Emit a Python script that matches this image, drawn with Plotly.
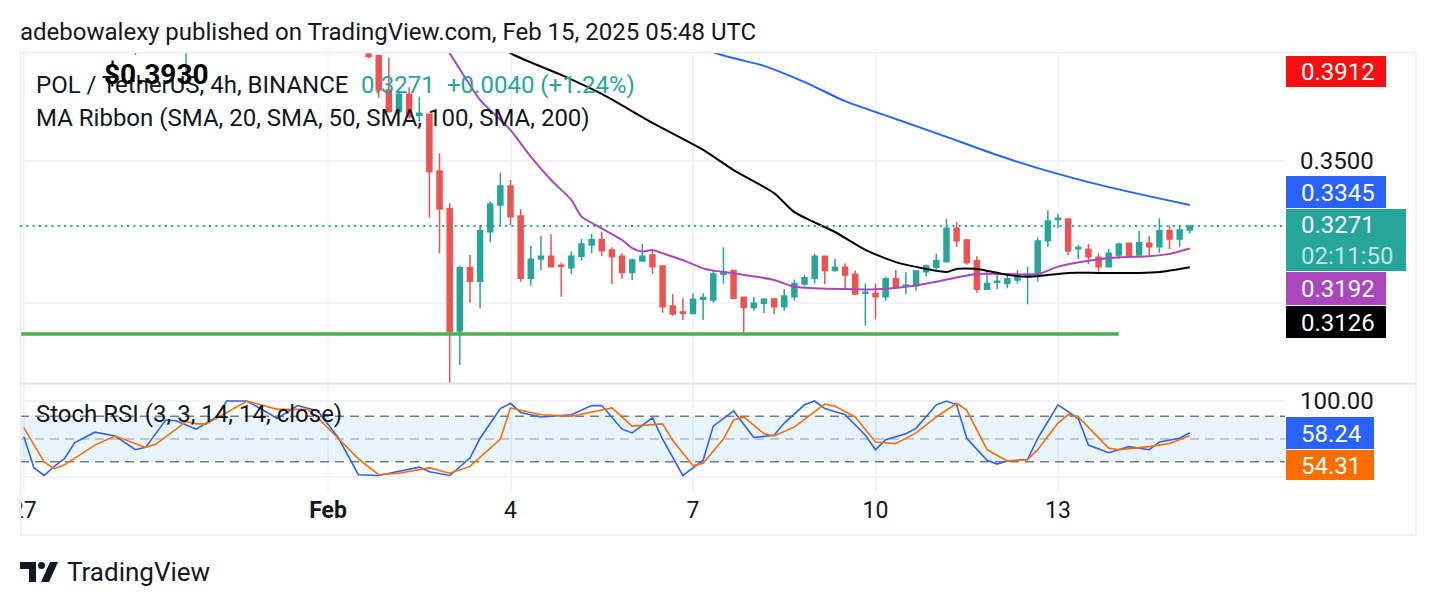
import plotly.graph_objects as go
import pandas as pd

# ---------------- data ----------------
BASE = pd.Timestamp("2025-02-01 00:00")   # bar index 0 = Feb 1 00:00 UTC, 4h bars

bar_idx = [-19, -14] + list(range(4, 86))
opens = [0.4050, 0.3950,
         0.3877, 0.3871, 0.3750, 0.3674, 0.3735, 0.3660, 0.3665, 0.3465, 0.3333, 0.2901,
         0.3124, 0.3077, 0.3251, 0.3345, 0.3412, 0.3306, 0.3087, 0.3155, 0.3165, 0.3133,
         0.3124, 0.3165, 0.3204, 0.3224, 0.3187, 0.3165, 0.3107, 0.3148, 0.3169, 0.3130,
         0.2989, 0.2968, 0.2963, 0.3013, 0.3011, 0.3101, 0.3114, 0.3020, 0.2984, 0.2999,
         0.3014, 0.2987, 0.3022, 0.3067, 0.3087, 0.3165, 0.3114, 0.3126, 0.3101, 0.3034,
         0.3034, 0.3022, 0.3085, 0.3059, 0.3061, 0.3110, 0.3126, 0.3145, 0.3263, 0.3222,
         0.3149, 0.3048, 0.3073, 0.3069, 0.3081, 0.3097, 0.3099, 0.3219, 0.3294, 0.3296,
         0.3191, 0.3189, 0.3161, 0.3128, 0.3169, 0.3210, 0.3169, 0.3210, 0.3198, 0.3254,
         0.3225, 0.3257]
highs = [0.4120, 0.4100,
         0.3920, 0.3875, 0.3864, 0.3740, 0.3760, 0.3726, 0.3668, 0.3527, 0.3351, 0.3131,
         0.3169, 0.3275, 0.3357, 0.3459, 0.3433, 0.3330, 0.3201, 0.3236, 0.3242, 0.3143,
         0.3181, 0.3225, 0.3243, 0.3251, 0.3196, 0.3175, 0.3157, 0.3208, 0.3189, 0.3132,
         0.3032, 0.3017, 0.3034, 0.3034, 0.3116, 0.3196, 0.3115, 0.3022, 0.3022, 0.3017,
         0.3018, 0.3048, 0.3083, 0.3099, 0.3173, 0.3166, 0.3155, 0.3140, 0.3114, 0.3069,
         0.3069, 0.3093, 0.3116, 0.3108, 0.3114, 0.3136, 0.3173, 0.3296, 0.3284, 0.3225,
         0.3165, 0.3116, 0.3110, 0.3102, 0.3116, 0.3128, 0.3231, 0.3327, 0.3313, 0.3297,
         0.3204, 0.3208, 0.3175, 0.3189, 0.3212, 0.3211, 0.3254, 0.3236, 0.3298, 0.3271,
         0.3275, 0.3275]
lows = [0.3873, 0.3813,
        0.3862, 0.3723, 0.3670, 0.3668, 0.3650, 0.3638, 0.3300, 0.3175, 0.2717, 0.2782,
        0.3001, 0.2981, 0.3214, 0.3272, 0.3275, 0.3075, 0.3061, 0.3116, 0.3125, 0.3022,
        0.3102, 0.3149, 0.3175, 0.3165, 0.3067, 0.3085, 0.3081, 0.3145, 0.3102, 0.2966,
        0.2955, 0.2940, 0.2960, 0.2940, 0.3001, 0.3069, 0.3015, 0.2893, 0.2973, 0.2964,
        0.2961, 0.2973, 0.3008, 0.3060, 0.3069, 0.3066, 0.3110, 0.3049, 0.3028, 0.2920,
        0.2943, 0.3008, 0.3052, 0.3031, 0.3043, 0.3093, 0.3119, 0.3143, 0.3198, 0.3135,
        0.3036, 0.3046, 0.3049, 0.3052, 0.3069, 0.2995, 0.3075, 0.3198, 0.3263, 0.3169,
        0.3155, 0.3137, 0.3110, 0.3125, 0.3155, 0.3161, 0.3168, 0.3169, 0.3177, 0.3190,
        0.3198, 0.3245]
closes = [0.3960, 0.4060,
          0.3868, 0.3750, 0.3674, 0.3735, 0.3656, 0.3668, 0.3462, 0.3331, 0.2899, 0.3124,
          0.3077, 0.3254, 0.3349, 0.3412, 0.3304, 0.3087, 0.3154, 0.3165, 0.3128, 0.3129,
          0.3165, 0.3208, 0.3224, 0.3184, 0.3163, 0.3107, 0.3151, 0.3165, 0.3128, 0.2987,
          0.2961, 0.2964, 0.3013, 0.3019, 0.3102, 0.3110, 0.3017, 0.2984, 0.2999, 0.3013,
          0.2987, 0.3025, 0.3069, 0.3089, 0.3165, 0.3114, 0.3126, 0.3099, 0.3032, 0.3038,
          0.3022, 0.3085, 0.3055, 0.3063, 0.3113, 0.3130, 0.3149, 0.3263, 0.3219, 0.3142,
          0.3048, 0.3069, 0.3077, 0.3085, 0.3095, 0.3101, 0.3218, 0.3289, 0.3298, 0.3183,
          0.3195, 0.3163, 0.3128, 0.3175, 0.3208, 0.3165, 0.3212, 0.3198, 0.3254, 0.3225,
          0.3257, 0.3271]

# MA Ribbon lines (bar index, value)
sma20_idx = [11, 12, 15, 18, 20, 22, 24, 25, 27, 29, 30, 31, 32, 33, 35, 37, 38, 40, 44, 46, 48,
             54, 57, 60, 62, 64, 67, 70, 72, 75, 78, 81, 83, 85]
sma20_val = [0.3925, 0.3879, 0.3715, 0.3609, 0.3515, 0.3433, 0.3363, 0.3304, 0.3263, 0.3222,
             0.3193, 0.3181, 0.3187, 0.3175, 0.3151, 0.3122, 0.3114, 0.3105, 0.3081, 0.3057,
             0.3052, 0.3048, 0.3057, 0.3075, 0.3090, 0.3102, 0.3102, 0.3102, 0.3128, 0.3149,
             0.3161, 0.3165, 0.3173, 0.3192]
sma50_idx = [17, 18, 23, 27, 32, 37, 40, 44, 46, 50, 53, 56, 59, 61, 62, 64, 67, 69, 71, 73,
             76, 80, 82, 85]
sma50_val = [0.3915, 0.3880, 0.3803, 0.3736, 0.3634, 0.3539, 0.3468, 0.3387, 0.3320, 0.3250,
             0.3187, 0.3144, 0.3120, 0.3109, 0.3120, 0.3120, 0.3099, 0.3092, 0.3099, 0.3106,
             0.3106, 0.3106, 0.3109, 0.3126]
sma100_idx = [37, 38, 43, 47, 51, 56, 61, 66, 70, 77, 85]
sma100_val = [0.3925, 0.3884, 0.3835, 0.3778, 0.3711, 0.3648, 0.3585, 0.3521, 0.3475, 0.3408,
              0.3345]
sma200_last = 0.3912

support_level = 0.2891
support_end_idx = 78

# Stoch RSI (bar index, value)
k_idx = [-30, -29, -28, -27, -26, -25, -23, -21, -19, -18, -16, -15, -13, -11, -10, -8, -6, -5,
         -3, -1, 1, 3, 5, 7, 9, 10, 12, 14, 15, 17, 18, 19, 21, 24, 26, 27, 29, 30, 32, 33, 35,
         37, 38, 40, 42, 44, 45, 47, 48, 49, 51, 53, 54, 55, 57, 58, 60, 61, 62, 63, 65, 66, 67,
         69, 70, 72, 74, 75, 77, 79, 81, 82, 84, 85]
k_val = [53, 12, 2, 14, 24, 45, 59, 54, 36, 39, 75, 74, 63, 79, 100, 100, 85, 77,
         94, 87, 52, 3, 2, 7, 13, 7, 2, 25, 51, 90, 97, 85, 79, 82, 94, 94, 63, 58, 78, 50, 2,
         22, 67, 87, 52, 55, 71, 95, 100, 90, 82, 55, 36, 49, 57, 64, 95, 100, 95, 51, 22, 17, 21,
         23, 51, 95, 77, 42, 32, 40, 36, 46, 51, 58.24]
d_idx = [-30, -28, -27, -26, -23, -21, -18, -17, -14, -13, -12, -8, -5, -2, -1, 3, 5, 7, 10, 12,
         14, 17, 18, 21, 24, 28, 30, 33, 34, 36, 37, 39, 40, 41, 43, 44, 46, 49, 50, 52, 54, 56,
         58, 60, 62, 63, 65, 67, 69, 70, 72, 73, 74, 77, 78, 81, 83, 85]
d_val = [65, 20, 11, 16, 42, 54, 39, 43, 73, 70, 70, 100, 89, 89, 78, 24, 3, 5, 12, 5,
         14, 50, 91, 82, 80, 91, 67, 70, 48, 15, 18, 50, 75, 79, 57, 54, 66, 96, 93, 79, 46, 44,
         58, 79, 97, 88, 36, 21, 23, 36, 71, 82, 79, 38, 36, 40, 44, 54.31]

time_ticks = ["2025-01-27", "2025-02-01", "2025-02-04", "2025-02-07", "2025-02-10", "2025-02-13"]
time_tick_text = ["27", "<b>Feb</b>", "4", "7", "10", "13"]
price_ticks = [0.30, 0.35]
price_tick_text = ["", "0.3500"]

# ---------------- helpers ----------------
def bt(idx):
    return [BASE + pd.Timedelta(hours=4 * n) for n in idx]

W, H = 1436, 606
L, R, T, B = 20, 1285, 52, 492
def px(x):
    return (x - L) / (R - L)
def py(y):
    return (B - y) / (B - T)

UP, DN = "#26a69a", "#ef5350"
TXT = "#131722"
FONT = "Roboto"
FS = 24

fig = go.Figure()

fig.add_trace(go.Candlestick(
    x=bt(bar_idx), open=opens, high=highs, low=lows, close=closes,
    increasing=dict(line=dict(color=UP, width=1.5), fillcolor=UP),
    decreasing=dict(line=dict(color=DN, width=1.5), fillcolor=DN),
    xaxis="x", yaxis="y", showlegend=False, hoverinfo="skip"))

fig.add_trace(go.Scatter(x=[BASE + pd.Timedelta(hours=4 * -40), bt([support_end_idx])[0]],
                         y=[support_level, support_level], mode="lines",
                         line=dict(color="#4caf50", width=3.5), xaxis="x", yaxis="y",
                         showlegend=False, hoverinfo="skip"))
fig.add_trace(go.Scatter(x=bt(sma20_idx), y=sma20_val, mode="lines",
                         line=dict(color="#ab47bc", width=2, shape="spline", smoothing=0.6),
                         xaxis="x", yaxis="y", showlegend=False, hoverinfo="skip"))
fig.add_trace(go.Scatter(x=bt(sma50_idx), y=sma50_val, mode="lines",
                         line=dict(color="#000000", width=2, shape="spline", smoothing=0.6),
                         xaxis="x", yaxis="y", showlegend=False, hoverinfo="skip"))
fig.add_trace(go.Scatter(x=bt(sma100_idx), y=sma100_val, mode="lines",
                         line=dict(color="#2962ff", width=2, shape="spline", smoothing=0.6),
                         xaxis="x", yaxis="y", showlegend=False, hoverinfo="skip"))

# Stoch RSI
x_start = BASE + pd.Timedelta(hours=4 * -30.38)
x_end = BASE + pd.Timedelta(hours=4 * 94.39)
fig.add_trace(go.Scatter(x=[x_start, x_end, x_end, x_start], y=[20, 20, 80, 80], fill="toself",
                         fillcolor="rgba(33,150,243,0.10)", line=dict(width=0), mode="lines",
                         xaxis="x2", yaxis="y2", showlegend=False, hoverinfo="skip"))
for lvl, col in [(80, "#787b86"), (50, "#b2b5be"), (20, "#787b86")]:
    fig.add_trace(go.Scatter(x=[x_start, x_end], y=[lvl, lvl], mode="lines",
                             line=dict(color=col, width=1.5, dash="9px,6px"),
                             xaxis="x2", yaxis="y2", showlegend=False, hoverinfo="skip"))
fig.add_trace(go.Scatter(x=bt(k_idx), y=k_val, mode="lines", line=dict(color="#2962ff", width=1.6),
                         xaxis="x2", yaxis="y2", showlegend=False, hoverinfo="skip"))
fig.add_trace(go.Scatter(x=bt(d_idx), y=d_val, mode="lines", line=dict(color="#ff6d00", width=1.6),
                         xaxis="x2", yaxis="y2", showlegend=False, hoverinfo="skip"))

main_lo = 0.35 - (383 - 161) / 2840
main_hi = 0.35 + (161 - 52) / 2840
grid = "#f0f3fa"

fig.update_layout(
    width=W, height=H, paper_bgcolor="white", plot_bgcolor="white",
    margin=dict(l=L, r=W - R, t=T, b=H - B),
    font=dict(family=FONT, color=TXT),
    showlegend=False,
    xaxis=dict(domain=[0, 1], anchor="y", range=[x_start, x_end], type="date",
               rangeslider=dict(visible=False), showticklabels=False,
               tickvals=time_ticks, showgrid=True, gridcolor=grid, gridwidth=1.5,
               zeroline=False, showline=False),
    yaxis=dict(domain=[(B - 383) / (B - T), 1], anchor="x", side="right",
               range=[main_lo, main_hi], tickvals=price_ticks, ticktext=price_tick_text,
               showgrid=True, gridcolor=grid, gridwidth=1.5, zeroline=False, ticks="",
               tickfont=dict(size=FS, color=TXT, family=FONT), ticklabelstandoff=14),
    xaxis2=dict(domain=[0, 1], anchor="y2", range=[x_start, x_end], type="date",
                tickvals=time_ticks, ticktext=time_tick_text, showgrid=True, gridcolor=grid,
                gridwidth=1.5, zeroline=False, ticks="", showline=False,
                tickfont=dict(size=23, color=TXT, family=FONT), ticklabelstandoff=2),
    yaxis2=dict(domain=[0, (B - 384) / (B - T)], anchor="x2", side="right",
                range=[-19.7, 122.4], tickvals=[0, 100], ticktext=["", "100.00"],
                showgrid=True, gridcolor=grid, gridwidth=1.5, zeroline=False, ticks="",
                tickfont=dict(size=FS, color=TXT, family=FONT), ticklabelstandoff=14),
)

shapes = []
def pline(x0, y0, x1, y1, color="#e0e3eb", width=1):
    shapes.append(dict(type="line", xref="paper", yref="paper", x0=px(x0), y0=py(y0),
                       x1=px(x1), y1=py(y1), line=dict(color=color, width=width), layer="above"))

# white strip left of the chart frame (the cut-off "27" time label)
shapes.append(dict(type="rect", xref="paper", yref="paper", x0=px(0), x1=px(19.8),
                   y0=py(528), y1=py(494), fillcolor="white", line=dict(width=0), layer="above"))
# frame
pline(20, 52.5, 1416, 52.5, "#ebedf1", 1.5)
pline(20.5, 52, 20.5, 535, "#ebedf1", 1.5)
pline(1416, 52, 1416, 535, "#ebedf1", 1.5)
pline(20, 535, 1416, 535, "#ebedf1", 1.5)
pline(20, 383.5, 1416, 383.5, "#dfe2e8", 2)

# last price dotted line
shapes.append(dict(type="line", xref="paper", yref="y", x0=0, x1=1, y0=closes[-1], y1=closes[-1],
                   line=dict(color=UP, width=2, dash="2px,4.3px"), layer="above"))

annotations = []
def text(x, y, s, size=FS, color=TXT, bold=False, anchor="left"):
    annotations.append(dict(xref="paper", yref="paper", x=px(x), y=py(y), text=("<b>%s</b>" % s) if bold else s,
                            showarrow=False, xanchor=anchor, yanchor="middle",
                            font=dict(size=size, color=color, family=FONT)))

def label_box(x0, x1, y0, y1, color, lines):
    shapes.append(dict(type="rect", xref="paper", yref="paper", x0=px(x0), x1=px(x1),
                       y0=py(y1), y1=py(y0), fillcolor=color, line=dict(width=0), layer="above"))
    n = len(lines)
    step = (y1 - y0) / n
    for i, (s, c) in enumerate(lines):
        text(1299, y0 + step * (i + 0.5) + 0.5, s, FS, c)

label_box(1286, 1386, 56, 87, "#f70f0f", [("%.4f" % sma200_last, "white")])
label_box(1286, 1386, 176, 208, "#2962ff", [("%.4f" % sma100_val[-1], "white")])
label_box(1286, 1406, 209, 271, UP, [("%.4f" % closes[-1], "white"), ("02:11:50", "rgba(255,255,255,0.72)")])
label_box(1286, 1386, 272, 305, "#ab47bc", [("%.4f" % sma20_val[-1], "white")])
label_box(1286, 1386, 306, 338, "#000000", [("%.4f" % sma50_val[-1], "white")])
label_box(1286, 1374, 417, 449, "#2962ff", [("%.2f" % k_val[-1], "white")])
label_box(1286, 1374, 450, 480, "#ff6d00", [("%.2f" % d_val[-1], "white")])

text(18, 32, "adebowalexy published on TradingView.com, Feb 15, 2025 05:48 UTC", FS)
text(34, 85, "POL / TetherUS, 4h, BINANCE", FS)
text(359, 85, "0.3271", FS, UP)
text(445, 85, "+0.0040 (+1.24%)", FS, UP)
text(102, 75, "$0.3930", 28, "#000000", bold=True)
text(34, 118, "MA Ribbon (SMA, 20, SMA, 50, SMA, 100, SMA, 200)", FS)
text(34, 414, "Stoch RSI (3, 3, 14, 14, close)", FS)
text(65, 572, "TradingView", 26, TXT)

# TradingView logo glyph
def path_px(pts):
    return "M " + " L ".join("%f,%f" % (px(x), py(y)) for x, y in pts) + " Z"
shapes.append(dict(type="path", xref="paper", yref="paper", layer="above",
                   path=path_px([(20, 562), (36, 562), (36, 582), (29, 582), (29, 569), (20, 569)]),
                   fillcolor=TXT, line=dict(width=0)))
shapes.append(dict(type="circle", xref="paper", yref="paper", layer="above",
                   x0=px(38), x1=px(45), y0=py(569), y1=py(562), fillcolor=TXT, line=dict(width=0)))
shapes.append(dict(type="path", xref="paper", yref="paper", layer="above",
                   path=path_px([(50, 562), (58, 562), (49, 582), (41, 582)]),
                   fillcolor=TXT, line=dict(width=0)))

fig.update_layout(shapes=shapes, annotations=annotations)
fig.write_html("out.html")
